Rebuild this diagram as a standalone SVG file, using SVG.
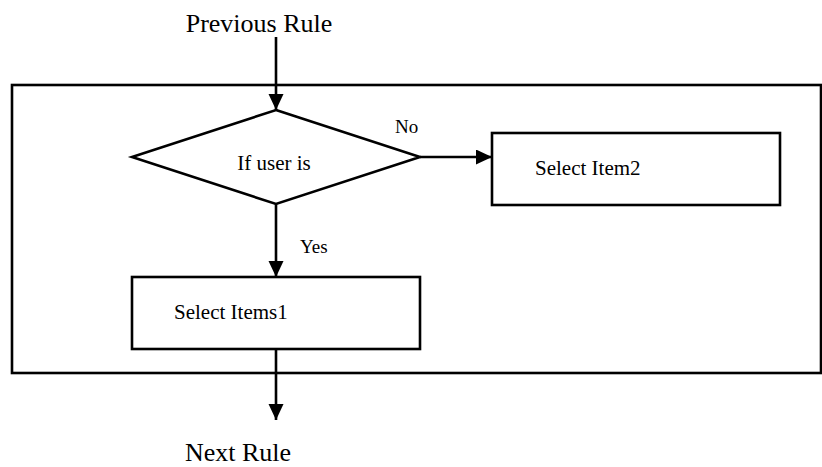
<svg xmlns="http://www.w3.org/2000/svg" width="822" height="467" viewBox="0 0 822 467">
<style>
.s{fill:none;stroke:#000;stroke-width:2.6}
.w{fill:#fff;stroke:#000;stroke-width:2.6}
text{font-family:"Liberation Serif","Times New Roman",serif;fill:#000}
.big{font-size:26px}
.mid{font-size:21px}
.lbl{font-size:19px}
</style>
<defs>
<marker id="ah" markerUnits="userSpaceOnUse" markerWidth="17" markerHeight="16" refX="16" refY="7.5" orient="auto" viewBox="0 0 17 16">
<path d="M0,0 L16,7.5 L0,15 z" fill="#000"/>
</marker>
</defs>
<g id="frame"><rect class="s" x="12" y="85" width="809" height="288"/></g>
<g id="prev"><text class="big" x="259" y="32" text-anchor="middle">Previous Rule</text></g>
<g id="next"><text class="big" x="238" y="461" text-anchor="middle" font-size="25.5">Next Rule</text></g>
<g id="decision">
<polygon class="w" points="276,110 420,157 276,204 132,157"/>
<text class="mid" x="274" y="170" text-anchor="middle">If user is</text>
</g>
<g id="item2">
<rect class="w" x="492" y="133" width="288" height="72"/>
<text class="mid" x="535" y="175">Select Item2</text>
</g>
<g id="item1">
<rect class="w" x="132" y="277" width="288" height="72"/>
<text class="mid" x="174" y="319">Select Items1</text>
</g>
<g id="connectors">
<line class="s" x1="276" y1="37" x2="276" y2="110" marker-end="url(#ah)"/>
<line class="s" x1="420" y1="157" x2="492" y2="157" marker-end="url(#ah)"/>
<line class="s" x1="276" y1="204" x2="276" y2="277" marker-end="url(#ah)"/>
<line class="s" x1="276" y1="349" x2="276" y2="420" marker-end="url(#ah)"/>
<text class="lbl" x="395" y="133">No</text>
<text class="lbl" x="300" y="253">Yes</text>
</g>
</svg>
